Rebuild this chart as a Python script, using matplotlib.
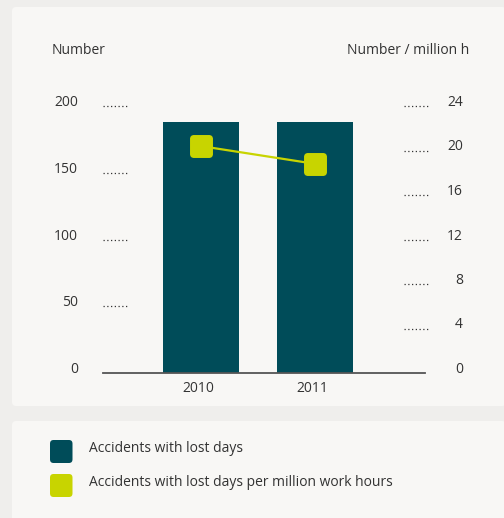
import matplotlib
matplotlib.use("Agg")
import matplotlib.pyplot as plt
from matplotlib.patches import FancyBboxPatch
from matplotlib.markers import MarkerStyle
from matplotlib.transforms import blended_transform_factory

plt.rcParams['font.family'] = ['Open Sans', 'DejaVu Sans']

# Data
years = ["2010", "2011"]
accidents = [188, 188]
accidents_per_million_h = [20.4, 18.8]
left_ticks = [0, 50, 100, 150, 200]
right_ticks = [0, 4, 8, 12, 16, 20, 24]
series_names = ["Accidents with lost days",
                "Accidents with lost days per million work hours"]

BAR_COLOR = "#004c59"
LINE_COLOR = "#c8d400"
TEXT_COLOR = "#333333"
OUTER_BG = "#efeeec"
PANEL_BG = "#f8f7f5"

W, H = 504, 518
fig = plt.figure(figsize=(W / 100, H / 100), dpi=100, facecolor=OUTER_BG)


def px(x, y):
    """Pixel position (from top-left) to figure fraction."""
    return x / W, 1 - y / H


def panel(x0, y0, x1, y1):
    fx0, fy1 = px(x0, y0)
    fx1, fy0 = px(x1, y1)
    fig.patches.append(FancyBboxPatch(
        (fx0, fy0), fx1 - fx0, fy1 - fy0,
        boxstyle="round,pad=0,rounding_size=0.008",
        transform=fig.transFigure, facecolor=PANEL_BG, edgecolor="none",
        zorder=-5))


panel(12, 7, 506, 406)
panel(12, 421, 506, 530)

# Plot area: x 103..425 px, y data 0 at 373 px and 200 at 106 px
ax_l, ax_r = 103, 425
ax_top, ax_bot = 106, 373
ax = fig.add_axes([ax_l / W, 1 - ax_bot / H, (ax_r - ax_l) / W, (ax_bot - ax_top) / H])
ax.set_facecolor("none")
ax.set_ylim(0, 200)
ax.set_xlim(-0.855, 1.962)
for s in ax.spines.values():
    s.set_visible(False)
ax.set_xticks([])
ax.set_yticks([])

xpos = list(range(len(years)))
ax.bar(xpos, accidents, width=0.665, color=BAR_COLOR, zorder=2)

# Baseline
ax.plot([0, 1], [0, 0], transform=ax.transAxes, color="#555555", lw=1.3,
        clip_on=False, zorder=3)

ax2 = ax.twinx()
ax2.set_ylim(0, 24)
for s in ax2.spines.values():
    s.set_visible(False)
ax2.set_xticks([])
ax2.set_yticks([])

mk = MarkerStyle("s", joinstyle="round")
ax2.plot(xpos, accidents_per_million_h, color=LINE_COLOR, lw=1.6, zorder=4,
         marker=mk, markersize=12, markeredgewidth=5,
         markerfacecolor=LINE_COLOR, markeredgecolor=LINE_COLOR)

# Dotted tick guides and tick labels
dot_style = dict(color=TEXT_COLOR, lw=0.9, linestyle=(0, (1, 2.0)), clip_on=False)
tl = blended_transform_factory(ax.transAxes, ax.transData)
for v in left_ticks:
    if v > 0:
        ax.plot([0.0, 24 / 322], [v, v], transform=tl, **dot_style)
    fx, fy = px(78, ax_bot - v * (ax_bot - ax_top) / 200 - 3.5)
    fig.text(fx, fy, str(v), ha="right", va="center", fontsize=10, color=TEXT_COLOR)

tr = blended_transform_factory(ax2.transAxes, ax2.transData)
for v in right_ticks:
    if v > 0:
        ax2.plot([301 / 322, 325 / 322], [v, v], transform=tr, **dot_style)
    fx, fy = px(463, ax_bot - v * (ax_bot - ax_top) / 24 - 3.5)
    fig.text(fx, fy, str(v), ha="right", va="center", fontsize=10, color=TEXT_COLOR)

# Category labels below the baseline
lab_tr = blended_transform_factory(ax.transData, fig.transFigure)
for x, lab in zip(xpos, years):
    ax.text(x - 0.02, 1 - 388.5 / H, lab, transform=lab_tr, ha="center", va="center",
            fontsize=10, color=TEXT_COLOR)

# Axis titles
fig.text(*px(52, 51), "Number", ha="left", va="center", fontsize=10, color=TEXT_COLOR)
fig.text(*px(469, 51), "Number / million h", ha="right", va="center", fontsize=10,
         color=TEXT_COLOR)

# Legend
leg_colors = [BAR_COLOR, LINE_COLOR]
leg_y = [451.5, 485.5]
for c, yc, name in zip(leg_colors, leg_y, series_names):
    fx0, fy1 = px(50, yc - 11.5)
    fx1, fy0 = px(72.5, yc + 11.5)
    fig.patches.append(FancyBboxPatch(
        (fx0, fy0), fx1 - fx0, fy1 - fy0,
        boxstyle="round,pad=0,rounding_size=0.007",
        transform=fig.transFigure, facecolor=c, edgecolor="none", zorder=2))
    fig.text(*px(89, yc - 3), name, ha="left", va="center", fontsize=10,
             color=TEXT_COLOR)

fig.savefig("out.png", dpi=100, facecolor=OUTER_BG)
